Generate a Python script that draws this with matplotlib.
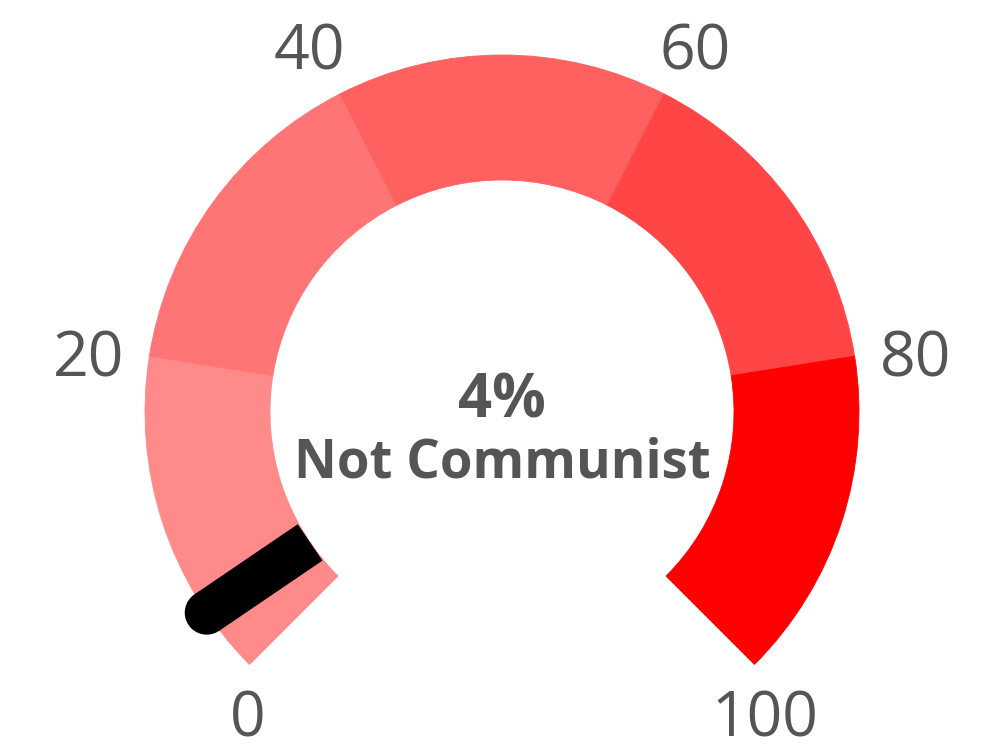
import numpy as np
import matplotlib
matplotlib.use("Agg")
import matplotlib.pyplot as plt
from matplotlib.patches import Wedge, Circle, Polygon

# ---- data ----
band_edges = [0, 20, 40, 60, 80, 100]
band_colors = ["#ff8a8a", "#ff7575", "#ff6161", "#ff4545", "#ff0000"]
tick_values = [0, 20, 40, 60, 80, 100]
tick_labels = ["0", "20", "40", "60", "80", "100"]
value = 4
value_label = "4%"
category_label = "Not Communist"

# ---- layout ----
W, H = 1000, 753
CX, CY = 502, 412          # gauge centre in pixels from top-left
R_OUT, R_IN = 357, 232
START, SWEEP = 225.0, 270.0
TEXT_COLOR = "#555555"
plt.rcParams["font.family"] = ["Open Sans", "DejaVu Sans"]

fig = plt.figure(figsize=(W / 100, H / 100), dpi=100)
ax = fig.add_axes([0, 0, 1, 1])
ax.set_xlim(-CX, W - CX)
ax.set_ylim(-(H - CY), CY)
ax.set_aspect("equal")
ax.axis("off")


def ang(v):
    return START - SWEEP * (v - band_edges[0]) / (band_edges[-1] - band_edges[0])


for lo, hi, col in zip(band_edges[:-1], band_edges[1:], band_colors):
    ax.add_patch(Wedge((0, 0), R_OUT, ang(hi), ang(lo), width=R_OUT - R_IN,
                       facecolor=col, edgecolor=col, linewidth=0.6))

# needle
t = np.deg2rad(ang(value))
d = np.array([np.cos(t), np.sin(t)])
n = np.array([-d[1], d[0]])
half = 22
p1 = d * R_IN
p2 = d * R_OUT
ax.add_patch(Polygon([p1 + n * half, p2 + n * half, p2 - n * half, p1 - n * half],
                     closed=True, facecolor="black", edgecolor="none", zorder=5))
ax.add_patch(Circle(p2, half, facecolor="black", edgecolor="none", zorder=5))

# tick labels
gap = 25
for v, lab in zip(tick_values, tick_labels):
    a = np.deg2rad(ang(v))
    x, y = R_OUT * np.cos(a), R_OUT * np.sin(a)
    s, c = np.sin(a), np.cos(a)
    if s < -0.5:
        ha, va = "center", "top"
        y -= gap
        x += 10 if c > 0 else -2
    elif s > 0.5:
        ha = "right" if c < 0 else "left"
        va = "bottom"
        y += gap - 16
        x += 5 if c < 0 else -5
    else:
        ha = "right" if c < 0 else "left"
        va = "center"
        x += -gap if c < 0 else gap
        y -= 4
    ax.text(x, y, lab, ha=ha, va=va, fontsize=45, color=TEXT_COLOR)

# centre labels
ax.text(0, 10, value_label, ha="center", va="center", fontsize=43,
        fontweight="bold", color=TEXT_COLOR)
ax.text(0, -51, category_label, ha="center", va="center", fontsize=38,
        fontweight="bold", color=TEXT_COLOR)

fig.savefig("out.png", dpi=100, facecolor="white")
